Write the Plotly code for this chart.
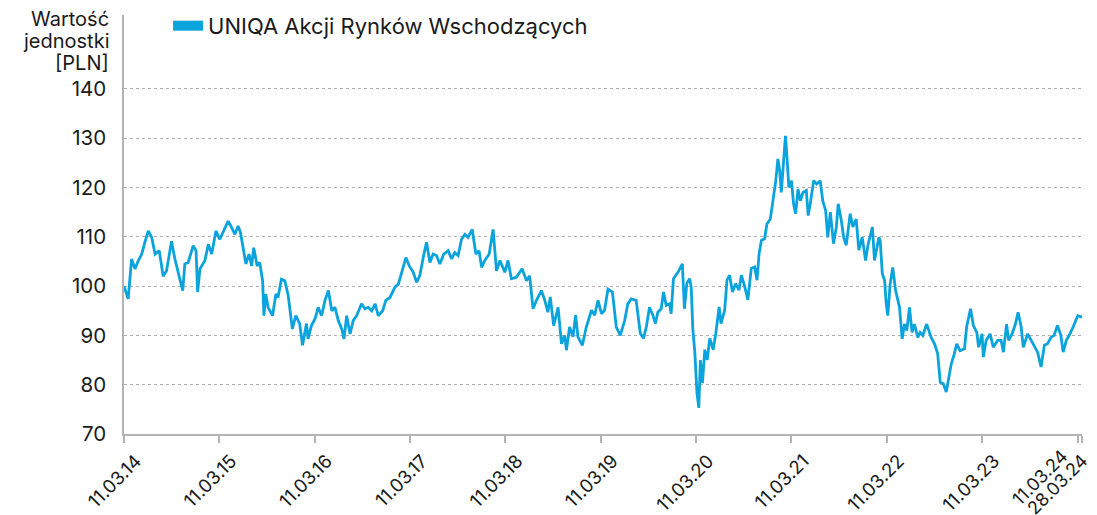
import plotly.graph_objects as go

series_name = "UNIQA Akcji Rynków Wschodzących"

dates = [
"2014-03-11","2014-03-27","2014-04-09","2014-04-22","2014-05-05","2014-05-18","2014-05-30","2014-06-12","2014-06-25","2014-07-08",
"2014-07-24","2014-08-08","2014-08-21","2014-08-31","2014-09-09","2014-09-22","2014-10-05","2014-10-22","2014-10-30","2014-11-12",
"2014-12-01","2014-12-12","2014-12-18","2014-12-27","2015-01-15","2015-01-28","2015-02-10","2015-02-26","2015-03-13","2015-03-26",
"2015-04-14","2015-04-27","2015-05-10","2015-05-22","2015-05-31","2015-06-08","2015-06-21","2015-07-03","2015-07-13","2015-07-21",
"2015-08-03","2015-08-13","2015-08-24","2015-08-29","2015-09-05","2015-09-14","2015-10-01","2015-10-14","2015-10-22","2015-11-04",
"2015-11-17","2015-11-30","2015-12-16","2015-12-29","2016-01-13","2016-01-24","2016-02-08","2016-02-14","2016-02-27","2016-03-12",
"2016-03-24","2016-04-06","2016-04-19","2016-05-02","2016-05-15","2016-05-27","2016-06-09","2016-06-22","2016-07-01","2016-07-11",
"2016-07-24","2016-08-05","2016-08-18","2016-09-06","2016-09-19","2016-10-02","2016-10-15","2016-10-28","2016-11-09","2016-11-26",
"2016-12-08","2016-12-24","2017-01-12","2017-01-25","2017-02-07","2017-02-23","2017-03-08","2017-03-23","2017-04-05","2017-04-17",
"2017-05-03","2017-05-13","2017-05-26","2017-06-07","2017-06-20","2017-07-03","2017-07-18","2017-08-04","2017-08-17","2017-08-29",
"2017-09-11","2017-09-24","2017-10-07","2017-10-19","2017-11-04","2017-11-18","2017-11-30","2017-12-10","2017-12-22","2018-01-08",
"2018-01-23","2018-02-05","2018-02-18","2018-03-09","2018-03-21","2018-04-03","2018-04-22","2018-05-14","2018-05-31","2018-06-12",
"2018-06-25","2018-07-08","2018-07-27","2018-08-09","2018-08-21","2018-08-30","2018-09-12","2018-09-29","2018-10-12","2018-10-24",
"2018-10-31","2018-11-12","2018-11-25","2018-12-05","2018-12-14","2018-12-31","2019-01-15","2019-02-04","2019-02-16","2019-03-01",
"2019-03-14","2019-03-26","2019-04-08","2019-04-25","2019-05-10","2019-05-25","2019-06-11","2019-06-23","2019-07-06","2019-07-25",
"2019-08-10","2019-08-22","2019-09-02","2019-09-14","2019-09-27","2019-10-07","2019-10-16","2019-10-29","2019-11-07","2019-11-17",
"2019-11-30","2019-12-06","2019-12-15","2020-01-01","2020-01-18","2020-01-26","2020-02-04","2020-02-15","2020-02-21","2020-02-27",
"2020-03-06","2020-03-14","2020-03-21","2020-03-27","2020-04-04","2020-04-13","2020-04-22","2020-05-02","2020-05-15","2020-05-25",
"2020-06-07","2020-06-14","2020-06-28","2020-07-07","2020-07-17","2020-07-28","2020-08-09","2020-08-22","2020-08-31","2020-09-13",
"2020-09-25","2020-10-08","2020-10-21","2020-10-30","2020-11-07","2020-11-16","2020-11-28","2020-12-07","2020-12-20","2020-12-28",
"2021-01-10","2021-01-18","2021-01-25","2021-01-31","2021-02-06","2021-02-16","2021-02-21","2021-03-01","2021-03-11","2021-03-19",
"2021-03-27","2021-04-05","2021-04-14","2021-04-24","2021-05-07","2021-05-14","2021-05-22","2021-06-04","2021-06-16","2021-06-29",
"2021-07-09","2021-07-20","2021-07-28","2021-08-07","2021-08-19","2021-08-30","2021-09-06","2021-09-18","2021-09-27","2021-10-07",
"2021-10-22","2021-11-01","2021-11-14","2021-11-24","2021-12-07","2021-12-20","2021-12-29","2022-01-15","2022-01-23","2022-02-09",
"2022-02-14","2022-02-22","2022-03-03","2022-03-09","2022-03-15","2022-03-24","2022-04-03","2022-04-14","2022-04-29","2022-05-09",
"2022-05-18","2022-05-27","2022-06-06","2022-06-16","2022-06-25","2022-07-08","2022-07-17","2022-07-27","2022-08-11","2022-08-28",
"2022-09-10","2022-09-22","2022-10-02","2022-10-14","2022-10-25","2022-11-03","2022-11-13","2022-11-25","2022-12-04","2022-12-17",
"2023-01-03","2023-01-11","2023-01-26","2023-02-06","2023-02-19","2023-02-26","2023-03-11","2023-03-16","2023-03-27","2023-04-11",
"2023-04-23","2023-05-10","2023-05-23","2023-06-01","2023-06-13","2023-06-21","2023-07-04","2023-07-17","2023-07-27","2023-08-08",
"2023-08-16","2023-09-02","2023-09-15","2023-09-27","2023-10-10","2023-10-23","2023-11-05","2023-11-17","2023-11-30","2023-12-12",
"2023-12-25","2024-01-07","2024-01-16","2024-01-28","2024-02-08","2024-02-23","2024-03-12","2024-03-28",
]

values = [
100.0,97.4,105.5,103.5,105.2,106.5,108.9,111.2,109.9,106.5,
107.2,102.0,103.1,106.5,109.1,105.5,102.8,99.1,104.5,104.8,
108.2,107.2,98.8,103.5,105.2,108.5,106.5,111.2,109.5,110.9,
113.2,111.9,110.5,112.2,110.9,108.5,104.5,106.5,104.1,107.8,
104.1,104.8,101.1,94.0,98.4,95.7,94.0,98.4,97.7,101.4,
101.1,98.1,91.3,94.0,92.4,88.0,92.4,89.3,92.0,93.4,
95.7,94.0,97.1,99.1,95.0,95.7,93.0,91.3,89.3,94.0,
90.3,93.0,94.0,96.4,95.4,95.7,95.0,96.4,94.0,95.0,
97.1,97.7,99.8,100.4,102.8,105.8,104.1,102.8,100.8,102.1,
106.5,108.9,104.8,106.5,106.2,104.5,106.5,107.2,105.5,106.8,
106.2,109.5,110.5,109.9,111.5,106.5,107.2,103.8,105.2,106.5,
111.5,103.1,105.2,102.8,105.2,101.5,101.8,103.5,101.1,102.1,
95.4,97.1,99.1,97.1,94.7,97.8,92.0,95.7,88.3,90.0,
87.0,91.7,89.7,94.1,89.7,88.0,91.7,95.1,94.1,97.1,
94.4,95.1,99.4,98.8,91.7,90.0,93.0,96.4,97.4,97.1,
90.4,89.4,91.7,95.7,94.1,92.4,94.7,95.4,98.8,96.1,
96.4,94.4,101.5,102.8,104.5,95.4,100.5,101.5,99.8,91.4,
86.4,78.3,75.3,85.0,80.3,87.1,85.0,89.4,87.1,90.4,
95.8,92.4,95.1,101.2,102.2,98.8,100.5,99.2,102.2,99.9,
97.2,103.6,103.9,101.2,106.6,109.3,109.6,112.6,113.6,116.7,
121.4,125.8,123.4,119.0,123.4,130.5,126.8,120.0,121.4,116.7,
114.7,119.7,117.3,119.0,119.4,114.3,116.7,121.4,120.7,121.4,
117.3,115.3,109.9,115.0,108.6,112.0,116.7,113.3,109.9,108.3,
114.7,112.0,113.6,107.3,109.9,105.2,108.3,112.0,105.2,109.9,
109.2,102.5,101.1,96.4,94.0,100.4,103.8,99.1,95.7,89.3,
92.3,91.0,95.7,90.6,92.3,89.6,90.6,90.0,92.3,89.6,
88.3,86.3,80.5,80.2,78.5,80.9,84.2,86.3,88.3,86.9,
87.3,91.7,95.4,92.0,90.6,87.6,90.3,85.6,89.0,90.3,
87.6,89.0,89.0,86.6,92.3,89.0,90.3,92.3,94.7,91.7,
87.6,90.3,89.0,87.6,86.6,83.6,88.0,88.3,89.6,90.0,
92.0,90.0,86.6,89.0,90.0,91.7,94.0,93.7,
]

tick_dates = ["2014-03-11","2015-03-11","2016-03-11","2017-03-11","2018-03-11","2019-03-11",
              "2020-03-11","2021-03-11","2022-03-11","2023-03-11","2024-03-11","2024-03-28"]
tick_labels = ["11.03.14","11.03.15","11.03.16","11.03.17","11.03.18","11.03.19",
               "11.03.20","11.03.21","11.03.22","11.03.23","11.03.24","28.03.24"]
y_ticks = [70, 80, 90, 100, 110, 120, 130, 140]
y_title_lines = ["Wartość", "jednostki", "[PLN]"]

line_color = "#0aa3dc"
text_color = "#1a1a1a"
axis_color = "#b3b3b3"
font_family = "Inter, 'Open Sans', sans-serif"

# the last two labels (11.03.24 and 28.03.24) sit close together; they are drawn
# as separate rotated texts so they stack like in the original
last_two = {"2024-03-11": (-38, -43), "2024-03-28": (-25, -50)}
axis_tick_labels = [t if d not in last_two else "" for d, t in zip(tick_dates, tick_labels)]

fig = go.Figure()
fig.add_trace(go.Scatter(x=dates, y=values, mode="lines",
                         line=dict(color=line_color, width=2.8),
                         showlegend=False, name=series_name))
fig.add_trace(go.Scatter(x=[None], y=[None], mode="lines",
                         line=dict(color=line_color, width=10),
                         name=series_name, showlegend=True))

annotations = []
for i, line in enumerate(y_title_lines):
    annotations.append(dict(text=line, xref="paper", yref="paper", x=0, y=1,
                            xanchor="right", yanchor="middle", xshift=-13,
                            yshift=-4 - 22 * i, showarrow=False,
                            font=dict(size=20, color=text_color)))
for d, t in zip(tick_dates, tick_labels):
    if d in last_two:
        dx, dy = last_two[d]
        annotations.append(dict(text=t, xref="x", yref="paper", x=d, y=0,
                                xanchor="center", yanchor="middle", xshift=dx, yshift=dy,
                                textangle=-45, showarrow=False,
                                font=dict(size=18, color=text_color)))

# page body has an 8px margin, so the figure is 8px smaller and margins shifted
fig.update_layout(
    width=1089, height=507,
    margin=dict(l=116, r=15, t=7, b=81, autoexpand=False),
    paper_bgcolor="white", plot_bgcolor="white",
    font=dict(family=font_family, color=text_color, size=20),
    legend=dict(orientation="h", xref="paper", yref="paper",
                x=0.046, xanchor="left", y=0.974, yanchor="middle",
                font=dict(size=22, color=text_color),
                bgcolor="rgba(0,0,0,0)"),
    xaxis=dict(type="date", range=["2014-03-11", "2024-03-28"], automargin=False,
               tickvals=tick_dates, ticktext=axis_tick_labels, tickangle=-45,
               ticklabelshift=12, ticklabeloverflow="allow",
               showgrid=False, showline=True, linecolor=axis_color, linewidth=2,
               ticks="outside", ticklen=7, tickcolor=axis_color, tickwidth=1.5,
               tickfont=dict(size=18.5, color=text_color)),
    yaxis=dict(range=[70, 155], tickvals=y_ticks, showgrid=True, automargin=False,
               gridcolor="#b0b0b0", griddash="dot", gridwidth=1,
               showline=True, linecolor=axis_color, linewidth=1.5,
               ticks="", ticklabelstandoff=12, zeroline=False,
               tickfont=dict(size=20.5, color=text_color)),
    annotations=annotations,
)

fig.write_html("out.html")
